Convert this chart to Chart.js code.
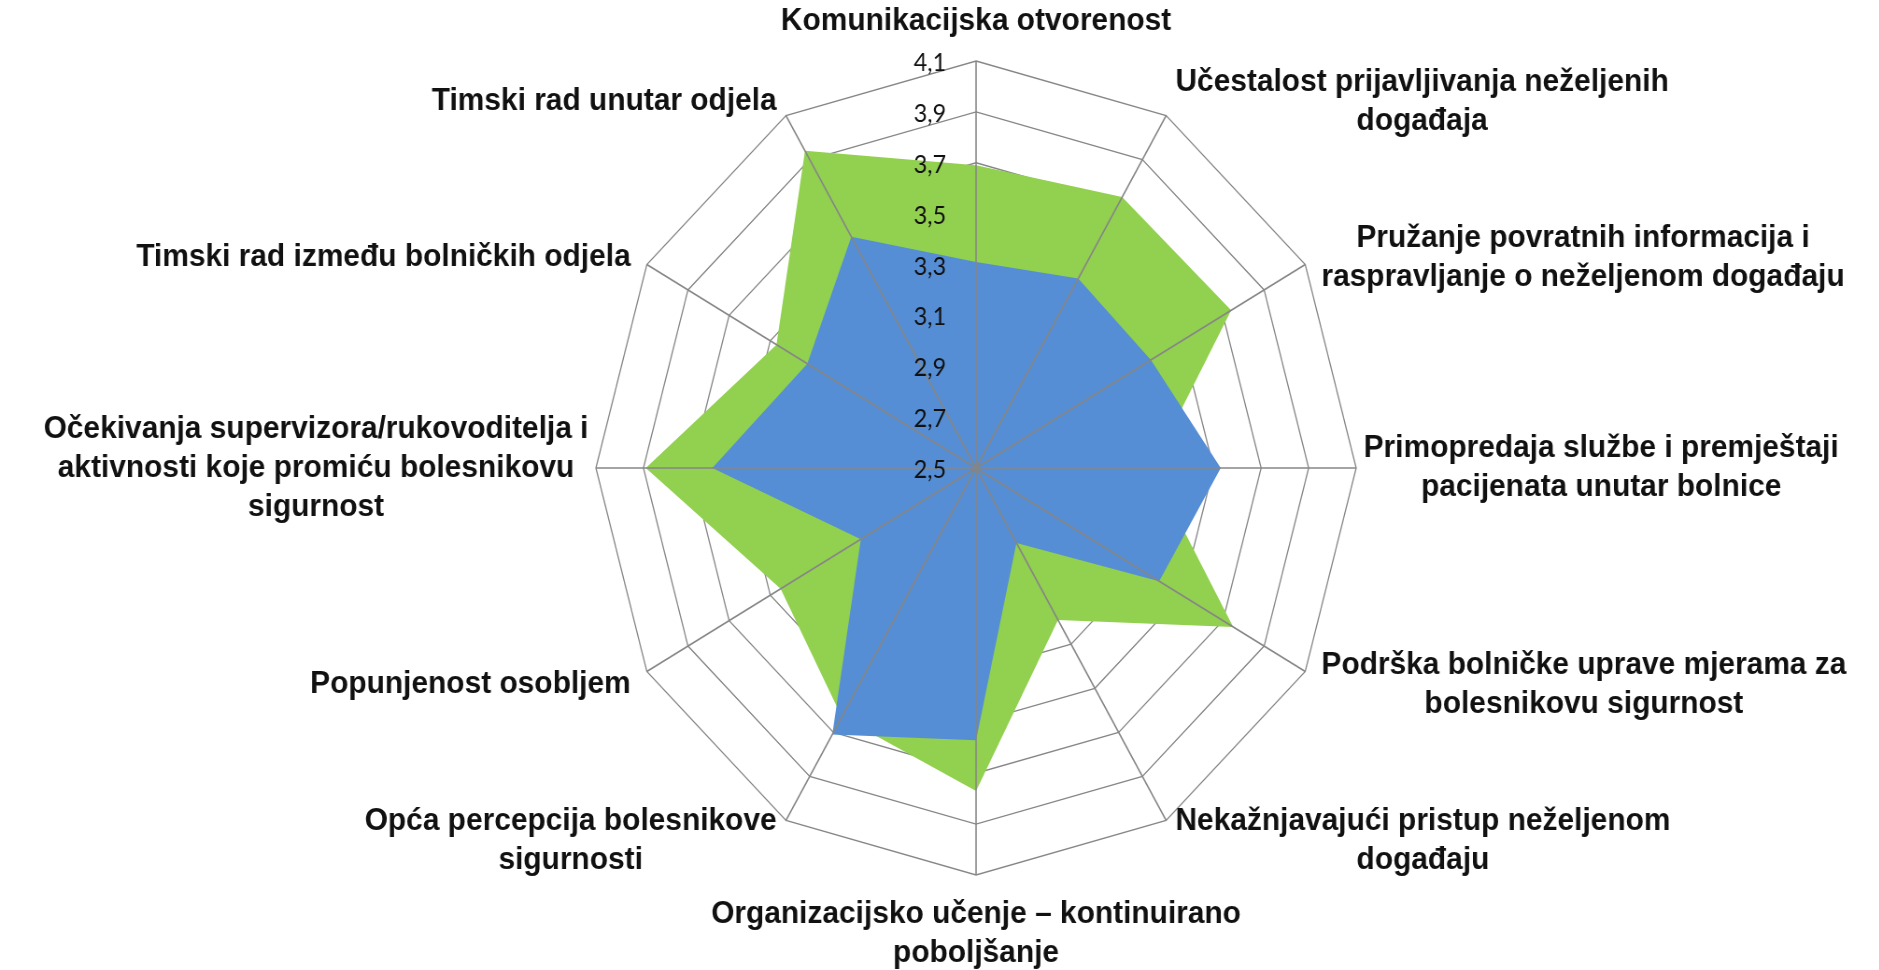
<!DOCTYPE html>
<html>
<head>
<meta charset="utf-8">
<script src="https://cdn.jsdelivr.net/npm/chart.js@4"></script>
<style>
  html, body { margin: 0; padding: 0; background: #fff; overflow: hidden; }
  #wrap { width: 2012px; height: 970px; transform: scaleX(0.934); transform-origin: 0 0; }
</style>
</head>
<body>
<div id="wrap">
  <canvas id="radar" width="2012" height="970"></canvas>
</div>
<script>
// kategorije (osi), redom u smjeru kazaljke od vrha
const categories = [
    ['Komunikacijska otvorenost'],
    ['Učestalost prijavljivanja neželjenih', 'događaja'],
    ['Pružanje povratnih informacija i', 'raspravljanje o neželjenom događaju'],
    ['Primopredaja službe i premještaji', 'pacijenata unutar bolnice'],
    ['Podrška bolničke uprave mjerama za', 'bolesnikovu sigurnost'],
    ['Nekažnjavajući pristup neželjenom', 'događaju'],
    ['Organizacijsko učenje – kontinuirano', 'poboljšanje'],
    ['Opća percepcija bolesnikove', 'sigurnosti'],
    ['Popunjenost osobljem'],
    ['Očekivanja supervizora/rukovoditelja i', 'aktivnosti koje promiću bolesnikovu', 'sigurnost'],
    ['Timski rad između bolničkih odjela'],
    ['Timski rad unutar odjela']
];

// plava serija (crta se iznad)
const blueValues = [3.31, 3.36, 3.35, 3.53, 3.39, 2.84, 3.57, 3.71, 3.06, 3.61, 3.32, 3.55];
// zelena serija (iza plave)
const greenValues = [3.69, 3.73, 3.74, 3.24, 3.75, 3.19, 3.77, 3.63, 3.45, 3.89, 3.47, 3.94];

const scaleMin = 2.5;
const scaleMax = 4.1;
const scaleStep = 0.2;
const tickLabels = ['2,5', '2,7', '2,9', '3,1', '3,3', '3,5', '3,7', '3,9', '4,1'];

const gridColor = '#868686';

// osi preko ispune, oznake skale i nazivi kategorija
const radarText = {
    id: 'radarText',
    afterDatasetsDraw(chart) {
        const scale = chart.scales.r;
        const ctx = chart.ctx;
        const outer = scale.getDistanceFromCenterForValue(scale.max);
        ctx.save();

        ctx.strokeStyle = gridColor;
        ctx.lineWidth = 1.6;
        for (let i = 0; i < categories.length; i++) {
            const p = scale.getPointPosition(i, outer);
            ctx.beginPath();
            ctx.moveTo(scale.xCenter, scale.yCenter);
            ctx.lineTo(p.x, p.y);
            ctx.stroke();
        }

        ctx.fillStyle = '#111';
        ctx.font = '25px Lato';
        ctx.textAlign = 'right';
        ctx.textBaseline = 'middle';
        scale.ticks.forEach((t, k) => {
            const y = scale.yCenter - scale.getDistanceFromCenterForValue(t.value);
            ctx.fillText(tickLabels[k], scale.xCenter - 32, y + 2);
        });

        ctx.font = 'bold 32px "Liberation Sans", Arial, sans-serif';
        ctx.textAlign = 'center';
        const lh = 39;
        categories.forEach((lines, i) => {
            const angle = scale.getIndexAngle(i);
            const s = Math.sin(angle);
            const c = Math.cos(angle);
            const pad = Math.abs(s) > 0.99 ? 8 : 20;
            const p = scale.getPointPosition(i, outer + pad);
            const bw = Math.max(...lines.map(l => ctx.measureText(l).width));
            const h = lines.length * lh;
            let cx, top;
            if (Math.abs(s) < 0.01) {
                cx = p.x;
                top = c > 0 ? p.y - h : p.y;
            } else {
                cx = s > 0 ? p.x + bw / 2 : p.x - bw / 2;
                top = p.y - h / 2 + (Math.abs(s) < 0.99 ? (c > 0 ? 3 : 3) : 0);
            }
            lines.forEach((l, k) => {
                ctx.fillText(l, cx, top + lh * (k + 0.5));
            });
        });
        ctx.restore();
    }
};

const ctx = document.getElementById('radar').getContext('2d');
const myChart = new Chart(ctx, {
    type: 'radar',
    data: {
        labels: categories,
        datasets: [{
            label: 'Serija 1',
            data: blueValues,
            backgroundColor: '#558ED5',
            borderWidth: 0,
            pointRadius: 0,
            fill: true
        }, {
            label: 'Serija 2',
            data: greenValues,
            backgroundColor: '#92D050',
            borderWidth: 0,
            pointRadius: 0,
            fill: true
        }]
    },
    options: {
        responsive: false,
        animation: false,
        layout: {
            padding: { left: 638, right: 560, top: 61, bottom: 95 }
        },
        plugins: {
            legend: { display: false },
            tooltip: { enabled: false }
        },
        elements: {
            line: { tension: 0 }
        },
        scales: {
            r: {
                min: scaleMin,
                max: scaleMax,
                ticks: { stepSize: scaleStep, display: false },
                grid: { color: gridColor, lineWidth: 1.3 },
                angleLines: { display: false },
                pointLabels: { display: false }
            }
        }
    },
    plugins: [radarText]
});
</script>
</body>
</html>
